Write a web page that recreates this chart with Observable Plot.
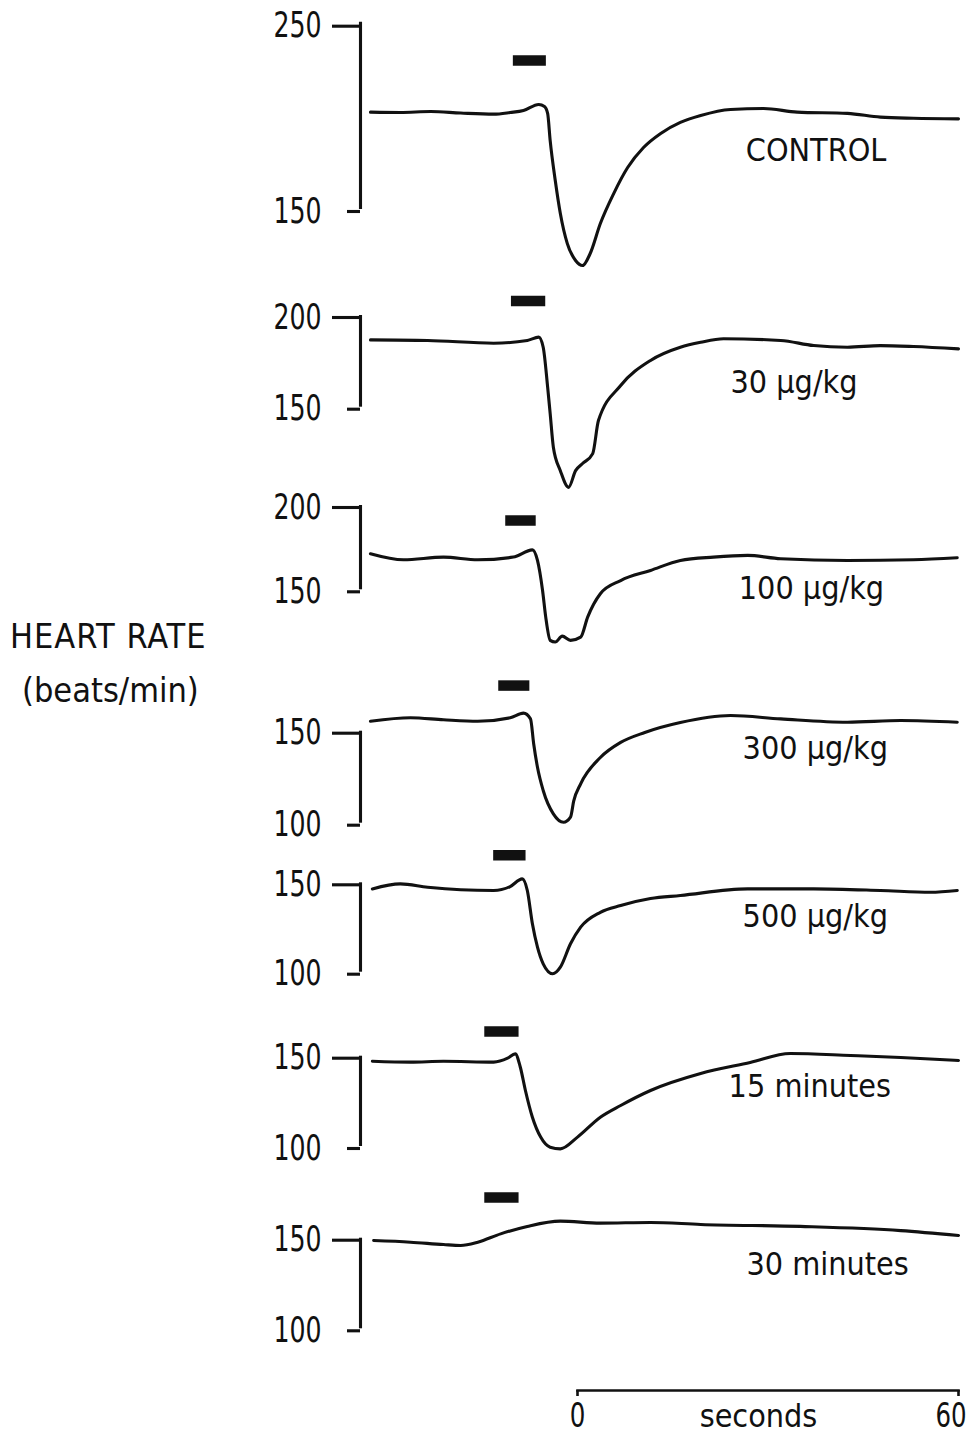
<!DOCTYPE html>
<html><head><meta charset="utf-8">
<script src="https://cdn.jsdelivr.net/npm/d3@7"></script>
<script src="https://cdn.jsdelivr.net/npm/@observablehq/plot@0.6"></script>
<style>
body{margin:0;background:#fff;}
#chart{position:relative;width:974px;height:1436px;overflow:hidden;font-family:"DejaVu Sans Condensed","DejaVu Sans",sans-serif;font-stretch:condensed;color:#111;}
#chart svg{position:absolute;left:0;top:0;}
.ylab{position:absolute;font-size:34px;white-space:nowrap;line-height:1;}
</style></head><body><div id="chart"></div><script>
// ---- data ----
const panelNames = ["CONTROL","30 µg/kg","100 µg/kg","300 µg/kg","500 µg/kg","15 minutes","30 minutes"];
const tickTop = [250,200,200,150,150,150,150];
const tickBottom = [150,150,150,100,100,100,100];

const controlT = [-32.6,-27.9,-23.1,-18.4,-13.2,-10.6,-8.5,-6.1,-5.2,-4.7,-4.3,-3.5,-2.7,-1.6,-0.3,0.8,2.0,3.6,5.7,7.9,10.4,13.1,16.2,19.4,24.1,29.3,34.6,42.5,47.7,52.9,60];
const controlHR = [202.0,201.8,202.3,201.5,200.9,201.8,202.9,206.1,205.0,201.3,186.8,165.5,147.9,131.8,122.8,120.1,126.5,142.5,158.5,172.4,183.1,190.6,196.5,200.2,203.4,203.9,202.0,201.3,199.3,198.7,198.4];

const dose30T = [-32.6,-23.6,-13.2,-7.9,-6.1,-5.4,-4.7,-4.3,-3.8,-2.7,-1.4,-0.3,0.8,2.4,3.3,6.8,11.5,16.2,19.4,23.0,32.0,37.2,42.5,47.7,52.9,60];
const dose30HR = [186.7,186.4,184.9,186.4,188.2,182.7,160.9,146.5,128.2,115.4,106.3,115.4,119.3,124.7,142.7,161.8,175.5,182.7,185.4,187.3,186.4,183.6,182.7,183.6,183.1,181.8];

const dose100T = [-32.6,-27.4,-21.1,-15.7,-10.1,-7.1,-6.3,-5.5,-5.0,-4.3,-3.5,-2.4,-1.1,0.5,1.6,3.6,6.8,11.5,16.2,21.4,26.8,32.0,42.5,52.9,59.8];
const dose100HR = [171.4,167.8,169.4,167.8,169.4,173.7,167.4,149.6,133.8,120.0,119.0,122.5,120.0,121.9,133.8,147.7,155.5,161.5,167.4,169.4,170.4,168.4,167.4,167.8,169.0];

const dose300T = [-32.6,-26.3,-21.1,-15.7,-10.6,-8.5,-7.4,-6.9,-6.3,-5.4,-3.8,-2.2,-1.1,-0.6,0.5,3.6,6.8,10.6,16.2,24.1,32.0,42.5,50.9,59.8];
const dose300HR = [155.4,157.3,156.2,155.4,157.3,159.8,156.7,143.2,130.4,117.8,105.1,100.5,103.3,112.0,121.4,135.7,143.9,149.3,154.7,158.5,156.7,154.9,155.8,154.9];

const dose500T = [-32.3,-27.9,-23.6,-18.4,-13.2,-10.6,-8.7,-7.9,-7.1,-6.3,-5.4,-3.9,-2.7,-1.1,0.5,3.6,6.8,11.5,16.2,26.8,37.2,47.7,55.6,59.8];
const dose500HR = [146.6,149.4,147.5,146.1,145.7,147.9,152.2,145.7,127.1,114.0,104.7,99.1,102.8,115.9,125.2,133.5,137.3,141.2,142.9,146.6,146.6,145.7,144.7,145.7];

const min15T = [-32.3,-26.3,-21.1,-13.2,-11.0,-9.8,-9.0,-8.2,-7.1,-5.8,-4.3,-2.7,0,3.6,6.8,11.5,19.4,27.2,33.5,43.0,50.9,60];
const min15HR = [147.2,146.7,147.2,146.7,148.9,151.3,143.9,131.0,116.2,105.2,99.6,98.7,105.2,116.2,122.7,131.0,140.4,146.5,151.5,150.4,149.3,147.6];

const min30T = [-32.1,-26.3,-21.1,-18.4,-15.7,-12.1,-7.9,-2.7,3.6,11.5,19.4,35.1,50.9,60];
const min30HR = [148.7,147.8,146.5,146.0,147.8,152.4,156.5,159.4,158.3,158.7,157.6,156.5,154.2,151.5];

const stimStart = [-10.1,-10.4,-11.3,-12.4,-13.2,-14.6,-14.6];
const stimEnd = [-4.9,-5.0,-6.5,-7.5,-8.1,-9.2,-9.2];
const stimHR = [229.6,207.9,191.1,174.8,165.4,163.7,172.5];

const labelT = [26.5,24.1,25.4,26.0,26.0,23.8,26.6];
const labelHR = [181.5,163.4,150.8,140.6,131.1,133.2,135.5];

const timeTicks = [0,60];
const timeLabel = "seconds";
const yTitle = ["HEART RATE","(beats/min)"];

// ---- layout (pixel placement of each panel's bpm scale) ----
const panelPx = [[21.7,209],[315,406.7],[505,589.3],[730.7,822.7],[882.3,971.7],[1055.7,1146],[1237.7,1328.3]];
const W = 974, H = 1436;
const xDomain = [-34.17, 60];
const FONT = '"DejaVu Sans Condensed","DejaVu Sans",sans-serif';
const INK = "#111";
const LW = 3.1;
const DIGIT_SQUEEZE = 0.8;

const traces = [
  [controlT, controlHR],[dose30T, dose30HR],[dose100T, dose100HR],[dose300T, dose300HR],
  [dose500T, dose500HR],[min15T, min15HR],[min30T, min30HR]
];

const chart = document.getElementById("chart");

function squeeze(svg, factor) {
  svg.querySelectorAll('g[aria-label$="tick label"] text').forEach(t => {
    const len = t.getComputedTextLength();
    t.setAttribute("textLength", (len * factor).toFixed(1));
    t.setAttribute("lengthAdjust", "spacingAndGlyphs");
  });
}

traces.forEach(([T, HR], i) => {
  const data = T.map((t, k) => ({t, hr: HR[k]}));
  const [pxTop, pxBot] = panelPx[i];
  const p = Plot.plot({
    width: W, height: H,
    marginLeft: 360, marginRight: W - 958, marginTop: 0, marginBottom: 0,
    style: {background: "transparent", fontFamily: FONT, fontSize: "34px", color: INK, overflow: "visible"},
    x: {domain: xDomain, axis: null},
    y: {domain: [tickBottom[i], tickTop[i]], range: [pxBot, pxTop], axis: null},
    marks: [
      Plot.ruleX([xDomain[0]], {y1: tickBottom[i], y2: tickTop[i], stroke: INK, strokeWidth: LW}),
      Plot.axisY({ticks: [tickTop[i]], anchor: "left", tickSize: 28, tickPadding: 11, strokeWidth: LW, stroke: INK, fill: INK, fontSize: 35, dy: i === 0 ? 4 : 2, label: null}),
      Plot.axisY({ticks: [tickBottom[i]], anchor: "left", tickSize: 13, tickPadding: 26, strokeWidth: LW, stroke: INK, fill: INK, fontSize: 35, dy: 2, label: null}),
      Plot.line(data, {x: "t", y: "hr", stroke: INK, strokeWidth: LW, curve: "monotone-x"}),
      Plot.ruleY([0], {x1: () => stimStart[i], x2: () => stimEnd[i], y: () => stimHR[i], stroke: INK, strokeWidth: 10.5}),
      Plot.text([panelNames[i]], {x: () => labelT[i], y: () => labelHR[i], text: d => d, textAnchor: "start", fill: INK, fontSize: 32})
    ]
  });
  chart.appendChild(p);
  squeeze(p, DIGIT_SQUEEZE);
});

// bottom time scale bar
const bar = Plot.plot({
  width: W, height: 60,
  marginLeft: 577, marginRight: W - 958, marginTop: 0, marginBottom: 50,
  style: {background: "transparent", fontFamily: FONT, fontSize: "34px", color: INK, overflow: "visible"},
  x: {domain: [0, 60], axis: null},
  marks: [
    Plot.frame({anchor: "bottom", stroke: INK, strokeWidth: 2.6}),
    Plot.axisX({ticks: timeTicks, anchor: "bottom", tickSize: 6, tickPadding: 6, strokeWidth: 2.6, stroke: INK, fill: INK, fontSize: 34, label: null}),
    Plot.text([timeLabel], {x: () => 28.5, frameAnchor: "bottom", dy: 26, text: d => d, fill: INK, fontSize: 32, lineAnchor: "middle"})
  ]
});
bar.style.top = "1380px";
chart.appendChild(bar);
squeeze(bar, DIGIT_SQUEEZE);
// keep the "60" inside the page like the reference
bar.querySelectorAll('g[aria-label="x-axis tick label"] text').forEach((t, k) => {
  if (k === timeTicks.length - 1) { t.setAttribute("text-anchor", "end"); t.setAttribute("dx", "8"); }
});

// y title
const t1 = document.createElement("div");
t1.className = "ylab"; t1.textContent = yTitle[0];
t1.style.left = "10px"; t1.style.top = "619px"; t1.style.letterSpacing = "1px";
chart.appendChild(t1);
const t2 = document.createElement("div");
t2.className = "ylab"; t2.textContent = yTitle[1];
t2.style.left = "22px"; t2.style.top = "673px";
chart.appendChild(t2);
</script></body></html>
